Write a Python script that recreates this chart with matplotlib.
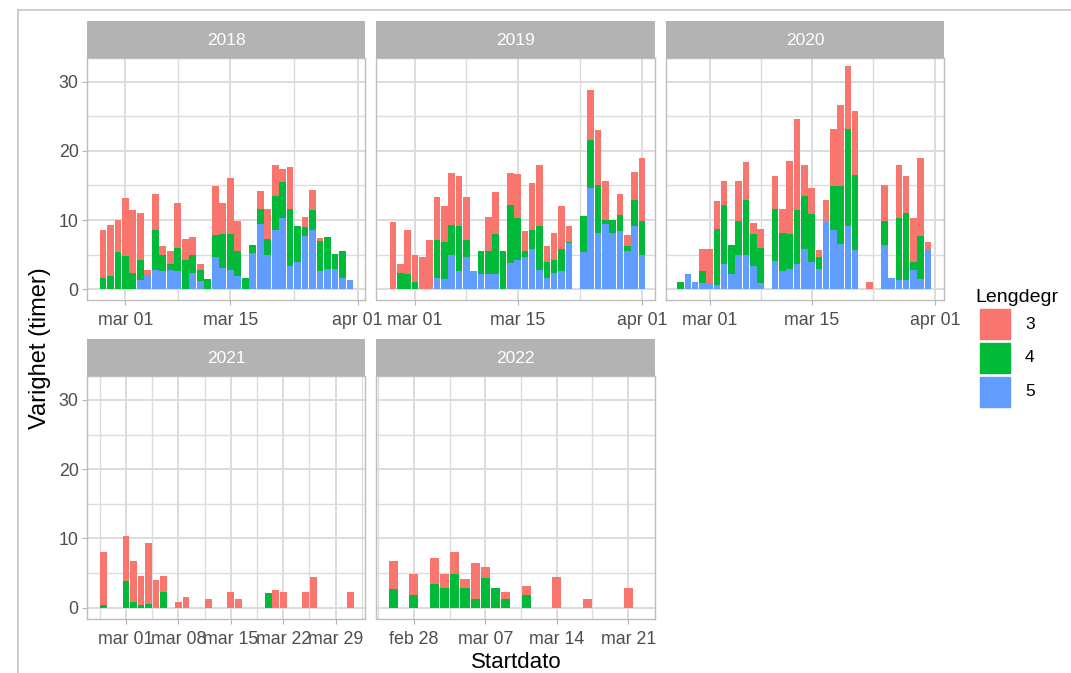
import numpy as np
import pandas as pd
import matplotlib
matplotlib.use("Agg")
import matplotlib.pyplot as plt
import matplotlib.dates as mdates
from matplotlib.patches import Rectangle
from matplotlib.lines import Line2D

plt.rcParams['font.family'] = ['Liberation Sans', 'DejaVu Sans']

# --- data: hours per start date, split by Lengdegr (3, 4, 5) ---
dates_2018 = ["02-26", "02-27", "02-28", "03-01", "03-02", "03-03", "03-04", "03-05", "03-06",
              "03-07", "03-08", "03-09", "03-10", "03-11", "03-12", "03-13", "03-14", "03-15",
              "03-16", "03-17", "03-18", "03-19", "03-20", "03-21", "03-22", "03-23", "03-24",
              "03-25", "03-26", "03-27", "03-28", "03-29", "03-30", "03-31"]
l5_2018 = [0, 0, 0, 0, 0, 1.4, 2.1, 2.8, 2.6, 2.8, 2.7, 0, 2.4, 1.2, 0, 4.7, 3.1, 2.8,
           1.9, 0, 5.2, 9.4, 5.0, 8.5, 10.3, 3.4, 4.0, 7.7, 8.6, 2.6, 3.0, 3.0, 1.7, 1.3]
l4_2018 = [1.7, 1.9, 5.4, 4.8, 2.3, 2.9, 0, 5.7, 2.4, 0.8, 3.3, 4.3, 2.6, 1.6, 1.5, 3.2, 4.9, 5.2,
           3.7, 1.7, 1.2, 2.2, 2.3, 5.0, 5.2, 8.2, 5.2, 1.3, 2.9, 4.4, 4.5, 2.1, 3.9, 0]
l3_2018 = [6.9, 7.4, 4.6, 8.4, 9.1, 6.7, 0.7, 5.3, 1.2, 2.0, 6.5, 3.0, 2.5, 0.8, 0, 7.0, 4.5, 8.1,
           4.3, 0, 0, 2.6, 4.3, 4.4, 1.9, 6.0, 0, 1.5, 2.9, 0.4, 0, 0, 0, 0]

dates_2019 = ["02-26", "02-27", "02-28", "03-01", "03-02", "03-03", "03-04", "03-05", "03-06",
              "03-07", "03-08", "03-09", "03-10", "03-11", "03-12", "03-13", "03-14", "03-15",
              "03-16", "03-17", "03-18", "03-19", "03-20", "03-21", "03-22", "03-24", "03-25",
              "03-26", "03-27", "03-28", "03-29", "03-30", "03-31", "04-01"]
l5_2019 = [0, 0, 0, 0, 0, 0, 1.7, 1.5, 5.0, 2.6, 4.6, 2.6, 2.2, 2.2, 2.2, 0, 3.8, 4.3,
           4.7, 5.8, 2.8, 1.7, 2.4, 2.6, 6.7, 5.4, 14.6, 8.1, 9.5, 8.1, 8.4, 5.6, 9.2, 5.0]
l4_2019 = [0, 2.4, 2.2, 1.0, 0, 0, 5.4, 5.3, 4.3, 6.5, 2.5, 0, 3.4, 3.4, 5.8, 5.6, 8.4, 6.0,
           0.9, 2.8, 6.3, 2.2, 1.9, 3.2, 0.2, 5.2, 6.9, 6.9, 0.5, 1.9, 2.4, 0.6, 3.7, 4.8]
l3_2019 = [9.7, 1.2, 6.4, 4.0, 4.6, 7.1, 6.2, 5.3, 7.5, 7.2, 6.2, 0, 0, 4.9, 6.1, 0, 4.6, 6.3,
           2.8, 6.7, 8.8, 2.4, 3.8, 6.3, 2.2, 0, 7.3, 8.0, 5.7, 0, 3.0, 1.6, 4.1, 9.1]

dates_2020 = ["02-26", "02-27", "02-28", "02-29", "03-01", "03-02", "03-03", "03-04", "03-05",
              "03-06", "03-07", "03-08", "03-10", "03-11", "03-12", "03-13", "03-14", "03-15",
              "03-16", "03-17", "03-18", "03-19", "03-20", "03-21", "03-23", "03-25", "03-26",
              "03-27", "03-28", "03-29", "03-30", "03-31"]
l5_2020 = [0, 2.2, 1.0, 0.9, 0.9, 0.6, 3.6, 2.2, 5.0, 5.0, 3.4, 0.9, 4.1, 2.7, 3.0, 3.6, 5.8, 3.9,
           3.0, 9.7, 8.6, 6.5, 9.2, 5.7, 0, 6.4, 1.7, 1.4, 1.4, 2.8, 1.5, 5.8]
l4_2020 = [1.0, 0, 0, 1.7, 0, 8.1, 8.6, 4.2, 4.8, 7.9, 4.6, 5.1, 7.5, 5.4, 5.0, 7.8, 7.7, 7.0,
           1.7, 0, 6.3, 8.4, 14.0, 10.8, 0, 3.4, 0, 8.9, 9.6, 1.1, 6.2, 0]
l3_2020 = [0, 0, 0, 3.2, 4.9, 4.0, 3.5, 0, 5.9, 5.5, 1.6, 2.7, 4.7, 3.5, 10.5, 13.2, 4.5, 3.7,
           1.0, 3.2, 8.3, 11.7, 9.1, 9.2, 1.1, 5.2, 0, 7.6, 5.3, 6.4, 11.2, 1.1]

dates_2021 = ["02-26", "03-01", "03-02", "03-03", "03-04", "03-05", "03-06", "03-08", "03-09",
              "03-12", "03-15", "03-16", "03-20", "03-21", "03-22", "03-25", "03-26", "03-31"]
l5_2021 = [0] * 18
l4_2021 = [0.4, 3.9, 0.8, 0.4, 0.6, 0, 2.3, 0, 0, 0, 0, 0, 2.1, 0, 0, 0, 0, 0]
l3_2021 = [7.7, 6.4, 5.9, 4.2, 8.8, 4.0, 2.3, 0.8, 1.5, 1.3, 2.2, 1.3, 0, 2.6, 2.3, 2.3, 4.5, 2.3]

dates_2022 = ["02-26", "02-28", "03-02", "03-03", "03-04", "03-05", "03-06", "03-07", "03-08",
              "03-09", "03-11", "03-14", "03-17", "03-21"]
l5_2022 = [0] * 14
l4_2022 = [2.7, 1.9, 3.4, 2.8, 4.9, 2.8, 1.3, 4.3, 2.9, 1.3, 1.9, 0, 0, 0]
l3_2022 = [4.1, 3.0, 3.8, 2.1, 3.1, 1.3, 5.1, 1.6, 0, 0.9, 1.2, 4.5, 1.3, 2.9]

years = [2018, 2019, 2020, 2021, 2022]
dates = [dates_2018, dates_2019, dates_2020, dates_2021, dates_2022]
l3 = [l3_2018, l3_2019, l3_2020, l3_2021, l3_2022]
l4 = [l4_2018, l4_2019, l4_2020, l4_2021, l4_2022]
l5 = [l5_2018, l5_2019, l5_2020, l5_2021, l5_2022]

# axis settings per panel (free x scales)
xlims = [("02-23 21:00", "04-02 00:00"), ("02-23 17:30", "04-02 17:00"),
         ("02-24 00:00", "04-02 05:00"), ("02-23 19:00", "04-01 22:00"),
         ("02-24 08:00", "03-23 14:00")]
major = [["03-01", "03-15", "04-01"]] * 3 + [["03-01", "03-08", "03-15", "03-22", "03-29"],
                                             ["02-28", "03-07", "03-14", "03-21"]]
minor = [["03-08", "03-23 12:00"]] * 3 + [["02-25 12:00", "03-04 12:00", "03-11 12:00",
                                           "03-18 12:00", "03-25 12:00", "04-01 12:00"],
                                          ["02-24 12:00", "03-03 12:00", "03-10 12:00",
                                           "03-17 12:00"]]

months = ["jan", "feb", "mar", "apr", "mai", "jun", "jul", "aug", "sep", "okt", "nov", "des"]
C3, C4, C5 = "#F8766D", "#00BA38", "#619CFF"

W, H = 1071, 673
fig = plt.figure(figsize=(W / 100, H / 100), dpi=100)


def box(l, t, w, h):
    return [l / W, 1 - (t + h) / H, w / W, h / H]


def tnum(year, s):
    return mdates.date2num(pd.Timestamp(f"{year}-{s}"))


def fmt(x, pos=None):
    d = mdates.num2date(x)
    return f"{months[d.month - 1]} {d.day:02d}"


# screenshot frame
fig.add_artist(Line2D([17.7 / W, 1], [1 - 10 / H, 1 - 10 / H], color="#c4c4c4", lw=1.2))
fig.add_artist(Line2D([17.7 / W, 17.7 / W], [0, 1 - 10 / H], color="#c4c4c4", lw=1.2))

lefts = [87, 376.5, 666]
tops = [57.7, 376.1]
pw, ph, sh = 278, 242.7, 36.7

for i, yr in enumerate(years):
    row, col = divmod(i, 3)
    l, t = lefts[col], tops[row]
    ax = fig.add_axes(box(l, t, pw, ph))
    x = [tnum(yr, d) for d in dates[i]]
    b5 = np.array(l5[i], dtype=float)
    b4 = np.array(l4[i], dtype=float)
    b3 = np.array(l3[i], dtype=float)
    ax.bar(x, b5, width=0.9, color=C5, linewidth=0)
    ax.bar(x, b4, width=0.9, bottom=b5, color=C4, linewidth=0)
    ax.bar(x, b3, width=0.9, bottom=b5 + b4, color=C3, linewidth=0)

    ax.set_xlim(tnum(yr, xlims[i][0]), tnum(yr, xlims[i][1]))
    ax.set_ylim(-1.6, 33.45)
    ax.set_xticks([tnum(yr, d) for d in major[i]])
    ax.set_xticks([tnum(yr, d) for d in minor[i]], minor=True)
    ax.xaxis.set_major_formatter(plt.FuncFormatter(fmt))
    ax.set_yticks([0, 10, 20, 30])
    ax.set_yticks([5, 15, 25], minor=True)
    ax.set_axisbelow(True)
    ax.grid(which="major", color="#dcdcdc", lw=1.4)
    ax.grid(which="minor", color="#dcdcdc", lw=1.0)
    for sp in ax.spines.values():
        sp.set_color("#bdbdbd")
        sp.set_linewidth(1.0)
    ax.tick_params(which="minor", length=0)
    ax.tick_params(which="major", length=3.6, width=0.8, color="#b3b3b3",
                   labelsize=12.8, labelcolor="#4d4d4d")
    ax.tick_params(axis="x", pad=5)
    ax.tick_params(axis="y", pad=2.5)
    if col != 0:
        ax.tick_params(axis="y", left=False, labelleft=False)

    # facet strip
    sax = fig.add_axes(box(l, t - sh, pw, sh))
    sax.set_facecolor("#b3b3b3")
    sax.set_xticks([])
    sax.set_yticks([])
    for sp in sax.spines.values():
        sp.set_visible(False)
    sax.text(0.5, 0.47, str(yr), color="white", fontsize=12.5, ha="center", va="center",
             transform=sax.transAxes)

fig.text(516 / W, 1 - 662 / H, "Startdato", fontsize=16, ha="center", va="center")
fig.text(40 / W, 1 - 348 / H, "Varighet (timer)", fontsize=17, ha="center", va="center",
         rotation=90)

# legend
fig.text(975 / W, 1 - 298 / H, "Lengdegr", fontsize=14, ha="left", va="center")
for k, (lab, c) in enumerate(zip(["3", "4", "5"], [C3, C4, C5])):
    yk = 309 + k * 34
    fig.add_artist(Rectangle((980 / W, 1 - (yk + 30) / H), 30 / W, 30 / H, color=c,
                             transform=fig.transFigure))
    fig.text(1025 / W, 1 - (yk + 15) / H, lab, fontsize=12.5, ha="left", va="center")

fig.savefig("out.png", dpi=100)
